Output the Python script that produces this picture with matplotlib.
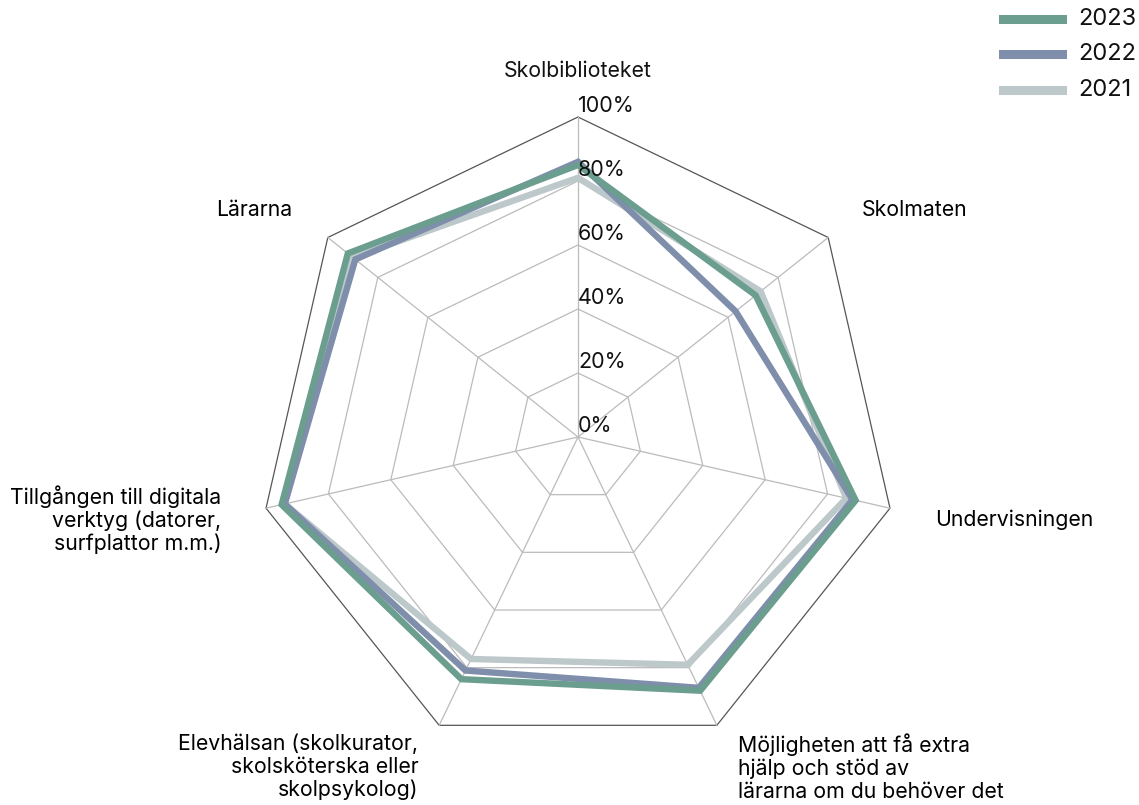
import numpy as np
import matplotlib
matplotlib.use("Agg")
import matplotlib.pyplot as plt
from matplotlib.lines import Line2D
from matplotlib.patches import Polygon

plt.rcParams['font.family'] = ['Inter', 'DejaVu Sans']

categories = [
    "Skolbiblioteket",
    "Skolmaten",
    "Undervisningen",
    "Möjligheten att få extra\nhjälp och stöd av\nlärarna om du behöver det",
    "Elevhälsan (skolkurator,\nskolsköterska eller\nskolpsykolog)",
    "Tillgången till digitala\nverktyg (datorer,\nsurfplattor m.m.)",
    "Lärarna",
]
years = ["2023", "2022", "2021"]
values_2023 = [85, 71, 89, 88, 84, 95, 92]
values_2022 = [86, 63, 88, 87, 81, 94, 89]
values_2021 = [81, 73, 86, 79, 77, 94, 90]
tick_values = [0, 20, 40, 60, 80, 100]
tick_labels = ["0%", "20%", "40%", "60%", "80%", "100%"]
colors = {"2023": "#6b9e8f", "2022": "#7e8eab", "2021": "#bdc8cb"}

W, H = 1139, 805
cx, cy = 578, 437
scale = 3.2  # px per percent

fig = plt.figure(figsize=(W / 100, H / 100), dpi=100)
ax = fig.add_axes([0, 0, 1, 1])
ax.set_xlim(-cx / scale, (W - cx) / scale)
ax.set_ylim(-(H - cy) / scale, cy / scale)
ax.set_aspect('equal')
ax.axis('off')

n = len(categories)
angles = np.arange(n) * 2 * np.pi / n
sx, sy = np.sin(angles), np.cos(angles)

# grid rings
for t in tick_values[1:]:
    pts = np.column_stack([t * sx, t * sy])
    col = "#555555" if t == 100 else "#bbbbbb"
    ax.add_patch(Polygon(pts, closed=True, fill=False, edgecolor=col, lw=0.9, zorder=1))
# spokes
for i in range(n):
    ax.plot([0, 100 * sx[i]], [0, 100 * sy[i]], color="#bbbbbb", lw=0.9, zorder=1)

# series
series = {"2023": values_2023, "2022": values_2022, "2021": values_2021}
for z, yr in enumerate(["2021", "2022", "2023"]):
    v = np.array(series[yr])
    pts = np.column_stack([v * sx, v * sy])
    ax.add_patch(Polygon(pts, closed=True, fill=False, edgecolor=colors[yr],
                         lw=4.6, joinstyle='miter', zorder=3 + z))

# tick labels
for t, lab in zip(tick_values, tick_labels):
    ax.text(0, t + 0.2, lab, ha='left', va='bottom', fontsize=15.5, color='#111111', zorder=10)

# category labels (offset in percent units)
fs = 15.3
ls = 1.16
ax.text(0, 114.5, categories[0], ha='center', va='center', fontsize=fs, color='#111111')
ax.text(100 * sx[1] + 10.5, 100 * sy[1] + 8.5, categories[1], ha='left', va='center', fontsize=fs)
ax.text(100 * sx[2] + 14, 100 * sy[2] - 3.5, categories[2], ha='left', va='center', fontsize=fs)
ax.text(100 * sx[3] + 6.5, 100 * sy[3] - 2.6, categories[3], ha='left', va='top', fontsize=fs, linespacing=ls)
ax.text(100 * sx[4] - 6.5, 100 * sy[4] - 2.6, categories[4], ha='right', va='top', fontsize=fs,
        multialignment='right', linespacing=ls)
ax.text(100 * sx[5] - 14, 100 * sy[5] - 3.6, categories[5], ha='right', va='center', fontsize=fs,
        multialignment='right', linespacing=ls)
ax.text(100 * sx[6] - 11, 100 * sy[6] + 8.5, categories[6], ha='right', va='center', fontsize=fs)

# legend (manual, figure pixel coords)
for i, yr in enumerate(years):
    ypx = 19 + i * 35.5
    fig.add_artist(Line2D([1003 / W, 1062 / W], [1 - ypx / H, 1 - ypx / H],
                          color=colors[yr], lw=6.5, transform=fig.transFigure))
    fig.text(1078 / W, 1 - ypx / H, yr, ha='left', va='center', fontsize=17, color='#111111')

fig.savefig("out.png", dpi=100, facecolor='white')
